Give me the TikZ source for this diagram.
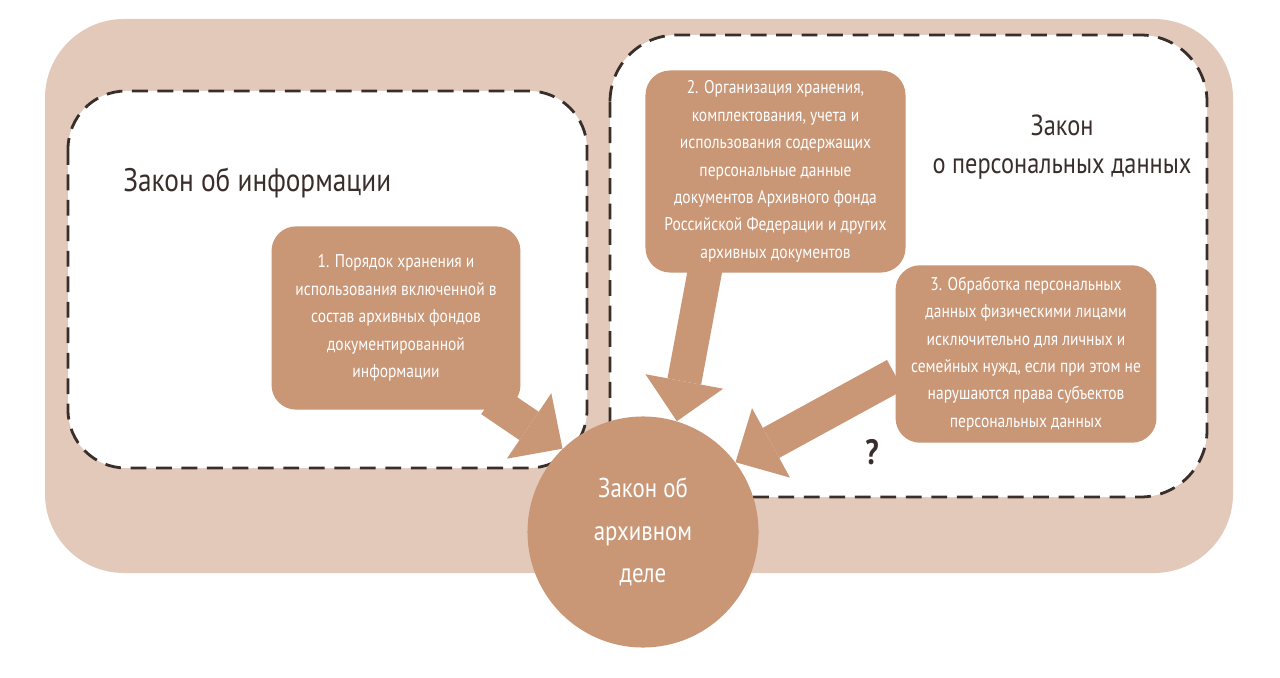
\documentclass[tikz,border=0pt]{standalone}
\usepackage{fontspec}
\setmainfont[FakeStretch=0.84]{PT Sans}
\usetikzlibrary{arrows.meta, calc, positioning}

\definecolor{sandbg}{RGB}{227,201,186}
\definecolor{clay}{RGB}{201,150,118}
\definecolor{ink}{RGB}{58,46,42}

\pgfdeclarelayer{back}
\pgfdeclarelayer{mid}
\pgfsetlayers{back,mid,main}

\tikzset{
    x=0.02cm, y=-0.02cm, % one unit is one pixel of the sketch, y runs down
    lawframe/.style={draw=ink, fill=white, line width=1.6pt, dash pattern=on 9pt off 5.5pt}, % the dashed law areas
    itembox/.style={fill=clay, rounded corners=14pt, text=white, align=center,
        font=\fontsize{10.5}{15.6}\selectfont, inner sep=2pt}, % the numbered boxes
    bigarrow/.style={draw=clay, line width=19.5pt,
        -{Triangle[width=45pt, length=23pt, line width=0pt]}}, % fat arrows into the circle
    title/.style={text=ink, inner sep=0pt},
}

\begin{document}
\begin{tikzpicture}
\useasboundingbox (0,0) rectangle (1280,678);

\node[itembox, minimum width=141.7pt, minimum height=104.3pt] (box1) at (396,318)
    {1. Порядок хранения и\\использования включенной в\\состав архивных фондов\\документированной\\информации};
\node[itembox, minimum width=148pt, minimum height=115pt] (box2) at (775.5,171.5)
    {2. Организация хранения,\\комплектования, учета и\\использования содержащих\\персональные данные\\документов Архивного фонда\\Российской Федерации и других\\архивных документов};
\node[itembox, minimum width=148.5pt, minimum height=101pt] (box3) at (1026,354)
    {3. Обработка персональных\\данных физическими лицами\\исключительно для личных и\\семейных нужд, если при этом не\\нарушаются права субъектов\\персональных данных};

\node[circle, fill=clay, minimum size=131.5pt, text=white, align=center,
    font=\fontsize{15.5}{24}\selectfont] (archlaw) at (643,532) {Закон об\\архивном\\деле};

\node[title, anchor=west, font=\fontsize{18.5}{24}\selectfont] (infotitle) at (123,183) {Закон об информации};
\node[title, align=center, font=\fontsize{16.5}{22}\selectfont] (pdtitle) at (1062,147) {Закон\\о персональных данных};
\node[title, font=\bfseries\fontsize{20}{24}\selectfont] (qmark) at (872,452) {?};

\begin{pgfonlayer}{back}
\fill[sandbg, rounded corners=45pt] (45,19) rectangle (1233,573);
\draw[lawframe, rounded corners=33pt] (68,91) rectangle (587,468);
\draw[lawframe, rounded corners=38pt] (610,35) rectangle (1207,497);
\end{pgfonlayer}

\begin{pgfonlayer}{mid}
\draw[bigarrow] ($(box1.south east)+(-30,-10)$) -- (archlaw.134);
\draw[bigarrow] ($(box2.south)+(-70,-5)$) -- (archlaw.73);
\draw[bigarrow] ($(box3.west)+(0,21)$) -- (archlaw.37);
\end{pgfonlayer}

\end{tikzpicture}
\end{document}
